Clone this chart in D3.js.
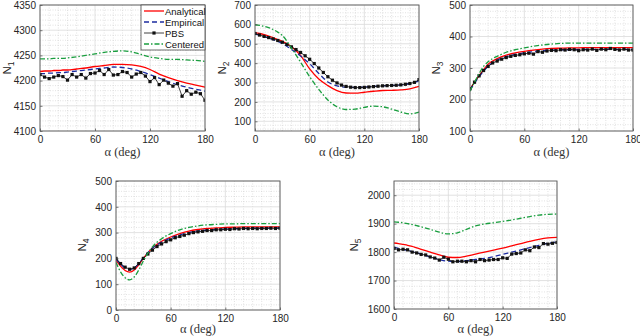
<!DOCTYPE html>
<html><head><meta charset="utf-8">
<script src="https://cdn.jsdelivr.net/npm/d3@7"></script>
<style>body{margin:0;background:#fff} svg{display:block}</style>
</head><body>
<svg id="c" width="640" height="336"></svg>
<script>
// ---------- data ----------
const pbsAngles = [0,5,10,15,20,25,30,35,40,45,50,55,60,65,70,75,80,85,90,95,100,105,110,115,120,125,130,135,140,145,150,155,160,165,170,175,180];
const curveAngles = [0,5,10,15,20,25,30,40,50,60,70,80,90,100,110,120,130,140,150,160,170,180];
const xTicks = [0,60,120,180];
const seriesNames = ["Analytical","Empirical","PBS","Centered"];

const n1Analytical = [4218,4219,4219,4220,4220,4221,4221,4223,4225,4228,4230,4232,4232,4231,4228,4222,4213,4206,4200,4195,4191,4187];
const n1Empirical  = [4214,4214,4215,4215,4216,4216,4217,4219,4221,4223,4225,4227,4226,4223,4218,4212,4205,4198,4192,4187,4183,4179];
const n1Centered   = [4243,4243,4243,4244,4244,4244,4245,4247,4250,4253,4256,4258,4259,4257,4252,4247,4244,4242,4242,4241,4240,4238];
const n1PBS = [4212,4207,4204,4207,4210,4208,4201,4212,4207,4212,4205,4214,4215,4220,4212,4222,4211,4212,4218,4216,4207,4213,4216,4209,4198,4206,4192,4201,4195,4189,4194,4169,4180,4173,4177,4174,4161];

const n2Analytical = [558,553,547,540,531,522,512,485,440,370,318,284,258,246,245,250,255,259,260,262,267,280];
const n2Empirical  = [551,544,537,530,521,512,501,471,437,397,347,303,283,276,275,277,280,283,285,288,295,308];
const n2Centered   = [598,595,590,583,573,560,543,478,405,330,265,210,175,161,163,172,178,175,163,148,138,148];
const n2PBS = [553,545,538,532,525,517,508,497,484,470,455,438,420,398,375,352,330,312,298,287,280,276,274,274,275,277,279,281,283,284,285,286,288,291,295,301,315];

const n3Analytical = [232,255,275,295,312,322,330,341,348,353,357,360,362,363,364,364,365,365,365,365,365,365];
const n3Empirical  = [230,252,272,290,306,317,325,336,343,348,352,355,357,358,358,359,359,359,359,359,359,359];
const n3Centered   = [226,255,282,305,320,330,337,350,358,364,369,373,376,378,379,379,379,379,379,379,379,379];
const n3PBS = [234,255,275,292,305,316,322,328,333,337,340,342,345,347,344,352,350,354,356,355,358,357,359,358,355,358,357,360,356,360,358,362,359,357,360,357,357];

const n4Analytical = [193,170,153,147,155,175,200,240,266,283,296,306,312,316,318,320,321,322,322,322,322,322];
const n4Empirical  = [198,178,163,157,163,180,202,240,263,279,291,300,306,310,312,314,315,316,317,317,318,318];
const n4Centered   = [185,148,125,117,128,155,190,245,276,296,311,320,326,330,332,334,334,335,335,335,335,335];
const n4PBS = [200,180,166,158,163,180,200,217,232,246,256,265,272,280,285,290,296,300,303,305,308,308,311,311,313,312,315,314,316,315,316,315,316,316,317,316,317];

const n5Analytical = [1832,1830,1827,1824,1820,1815,1810,1800,1790,1782,1781,1786,1793,1800,1807,1814,1822,1830,1838,1845,1850,1852];
const n5Empirical  = [1818,1813,1810,1806,1802,1798,1793,1783,1774,1768,1767,1770,1774,1778,1784,1792,1800,1808,1816,1824,1831,1836];
const n5Centered   = [1906,1905,1903,1900,1897,1893,1889,1880,1870,1864,1868,1880,1892,1899,1903,1908,1913,1919,1925,1930,1933,1934];
const n5PBS = [1813,1808,1810,1808,1800,1797,1792,1790,1783,1779,1772,1782,1775,1766,1768,1768,1766,1770,1766,1774,1770,1772,1774,1774,1780,1778,1793,1795,1797,1808,1805,1818,1816,1830,1828,1831,1834];

const n1Ticks = [4100,4150,4200,4250,4300,4350];
const n2Ticks = [100,200,300,400,500,600,700];
const n3Ticks = [100,200,300,400,500];
const n4Ticks = [0,100,200,300,400,500];
const n5Ticks = [1600,1700,1800,1900,2000];

// ---------- layout ----------
const panels = [
  {sub:"1", box:[40,205,5,131], dom:[4100,4350], ticks:n1Ticks, minor:10, data:[n1Analytical,n1Empirical,n1PBS,n1Centered], lab:[11,68], xl:25, legend:true},
  {sub:"2", box:[255,419,5,131], dom:[50,700], ticks:n2Ticks, minor:20, data:[n2Analytical,n2Empirical,n2PBS,n2Centered], lab:[226,68], xl:25},
  {sub:"3", box:[470,633,5,131], dom:[100,500], ticks:n3Ticks, minor:20, data:[n3Analytical,n3Empirical,n3PBS,n3Centered], lab:[440,68], xl:25},
  {sub:"4", box:[116,280,181,310], dom:[0,500], ticks:n4Ticks, minor:20, data:[n4Analytical,n4Empirical,n4PBS,n4Centered], lab:[86,245], xl:23},
  {sub:"5", box:[394,557,181,309], dom:[1600,2050], ticks:n5Ticks, minor:20, data:[n5Analytical,n5Empirical,n5PBS,n5Centered], lab:[358,245], xl:24}
];
const styles = [
  {color:"#ff0000", dash:null, w:1.3},
  {color:"#1c2ca0", dash:"5,3", w:1.3},
  {color:"#111111", dash:null, w:0.8, marker:true},
  {color:"#1a9e3f", dash:"5,2,1.5,2", w:1.3}
];

const svg = d3.select("#c");
const tickColor = "#262626";
const sans = "'Liberation Sans', Arial, Helvetica, sans-serif";

panels.forEach((p, pi) => {
  const [l,r,t,b] = p.box;
  const x = d3.scaleLinear().domain([0,180]).range([l,r]);
  const y = d3.scaleLinear().domain(p.dom).range([b,t]);
  const g = svg.append("g");
  const clipId = "clip"+pi;
  svg.append("clipPath").attr("id",clipId).append("rect").attr("x",l).attr("y",t).attr("width",r-l).attr("height",b-t);

  // minor grid
  const xMinor = d3.range(0,181,10).filter(v => v%60!==0);
  const yMinor = d3.range(Math.ceil(p.dom[0]/p.minor)*p.minor, p.dom[1]+0.1, p.minor).filter(v => !p.ticks.includes(v));
  g.selectAll(".xm").data(xMinor).enter().append("line")
    .attr("x1",d=>x(d)).attr("x2",d=>x(d)).attr("y1",t).attr("y2",b)
    .attr("stroke","#cfcfcf").attr("stroke-width",0.6).attr("stroke-dasharray","1,1.5");
  g.selectAll(".ym").data(yMinor).enter().append("line")
    .attr("x1",l).attr("x2",r).attr("y1",d=>y(d)).attr("y2",d=>y(d))
    .attr("stroke","#cfcfcf").attr("stroke-width",0.6).attr("stroke-dasharray","1,1.5");
  // major grid
  g.selectAll(".xg").data(xTicks).enter().append("line")
    .attr("x1",d=>x(d)).attr("x2",d=>x(d)).attr("y1",t).attr("y2",b)
    .attr("stroke","#dadada").attr("stroke-width",0.8);
  g.selectAll(".yg").data(p.ticks).enter().append("line")
    .attr("x1",l).attr("x2",r).attr("y1",d=>y(d)).attr("y2",d=>y(d))
    .attr("stroke","#dadada").attr("stroke-width",0.8);

  // series
  const lg = g.append("g").attr("clip-path","url(#"+clipId+")");
  p.data.forEach((vals, si) => {
    const st = styles[si];
    const xs = st.marker ? pbsAngles : curveAngles;
    const pts = vals.map((v,i)=>[xs[i],v]);
    const line = d3.line().x(d=>x(d[0])).y(d=>y(d[1])).curve(st.marker ? d3.curveLinear : d3.curveMonotoneX);
    const path = lg.append("path").attr("d",line(pts)).attr("fill","none")
      .attr("stroke",st.color).attr("stroke-width",st.w);
    if (st.dash) path.attr("stroke-dasharray",st.dash);
    if (st.marker) {
      lg.selectAll(".mk"+si).data(pts).enter().append("rect")
        .attr("x",d=>x(d[0])-1.6).attr("y",d=>y(d[1])-1.6).attr("width",3.2).attr("height",3.2)
        .attr("fill",st.color);
    }
  });

  // axes
  const fmt = d3.format("d");
  const ax = d3.axisBottom(x).tickValues(xTicks).tickFormat(fmt).tickSizeInner(-2.5).tickSizeOuter(0).tickPadding(5);
  const ay = d3.axisLeft(y).tickValues(p.ticks).tickFormat(fmt).tickSizeInner(-2.5).tickSizeOuter(0).tickPadding(4);
  const gx = g.append("g").attr("transform",`translate(0,${b})`).call(ax);
  const gy = g.append("g").attr("transform",`translate(${l},0)`).call(ay);
  [gx,gy].forEach(a => {
    a.select(".domain").remove();
    a.selectAll("line").attr("stroke",tickColor).attr("stroke-width",0.6);
    a.selectAll("text").attr("fill",tickColor).style("font-family",sans).style("font-size","10px");
  });
  // box
  g.append("rect").attr("x",l).attr("y",t).attr("width",r-l).attr("height",b-t)
    .attr("fill","none").attr("stroke","#5a5a5a").attr("stroke-width",0.9);

  // x label
  g.append("text").attr("x",(l+r)/2).attr("y",b+p.xl).attr("text-anchor","middle")
    .style("font-family","'Liberation Serif', 'DejaVu Serif', serif").style("font-size","12.5px").attr("fill","#333")
    .text("α (deg)");
  // y label
  const yl = g.append("text").attr("transform",`translate(${p.lab[0]},${p.lab[1]}) rotate(-90)`)
    .attr("text-anchor","middle").style("font-family",sans)
    .style("font-size","11.5px").attr("fill",tickColor);
  yl.append("tspan").text("N");
  yl.append("tspan").attr("dy",3).style("font-size","8.5px").text(p.sub);

  if (p.legend) {
    const lx = 141, ly = 5, lw = 64, lh = 45;
    const leg = g.append("g");
    leg.append("rect").attr("x",lx).attr("y",ly).attr("width",lw).attr("height",lh)
      .attr("fill","#fff").attr("stroke","#333").attr("stroke-width",0.7);
    seriesNames.forEach((nm, si) => {
      const st = styles[si];
      const yy = ly + 6 + si*11;
      const ln = leg.append("line").attr("x1",lx+3).attr("x2",lx+23).attr("y1",yy).attr("y2",yy)
        .attr("stroke",st.color).attr("stroke-width",st.w);
      if (st.dash) ln.attr("stroke-dasharray",st.dash);
      if (st.marker) leg.append("rect").attr("x",lx+13-1.6).attr("y",yy-1.6).attr("width",3.2).attr("height",3.2).attr("fill",st.color);
      leg.append("text").attr("x",lx+24).attr("y",yy+3.5)
        .style("font-family",sans).style("font-size","9.5px")
        .attr("fill","#111").text(nm);
    });
  }
});
</script>
</body></html>
